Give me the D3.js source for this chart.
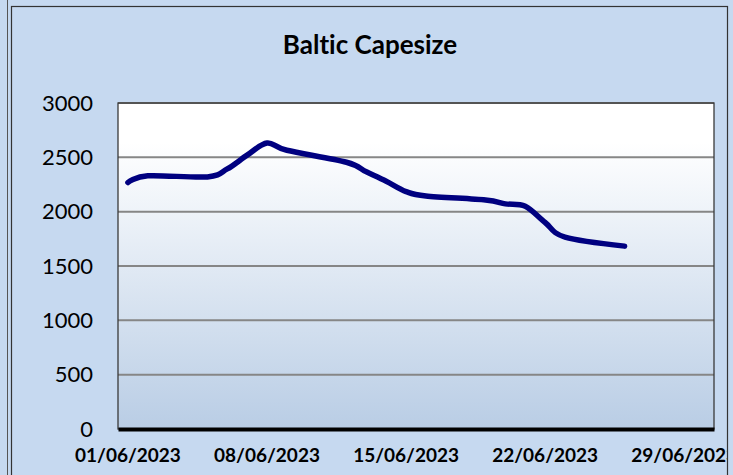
<!DOCTYPE html>
<html>
<head>
<meta charset="utf-8">
<script src="https://cdn.jsdelivr.net/npm/d3@7"></script>
<style>
  body { margin: 0; background: #c6d9f0; }
  svg { display: block; }
  text { font-variant-ligatures: none; font-feature-settings: "liga" 0; }
</style>
</head>
<body>
<div id="chart"></div>
<script>
// Baltic Capesize, June 2023 (business days only)
const days = ["01/06/2023", "02/06/2023", "05/06/2023", "06/06/2023", "07/06/2023", "08/06/2023",
    "09/06/2023", "12/06/2023", "13/06/2023", "14/06/2023", "15/06/2023", "16/06/2023",
    "19/06/2023", "20/06/2023", "21/06/2023", "22/06/2023", "23/06/2023", "26/06/2023"];
const values = [2268, 2330, 2320, 2393, 2520, 2632, 2565, 2455, 2367, 2280, 2185, 2145,
    2107, 2072, 2050, 1900, 1766, 1683];
const yTicks = [0, 500, 1000, 1500, 2000, 2500, 3000];
const xTickLabels = ["01/06/2023", "08/06/2023", "15/06/2023", "22/06/2023", "29/06/2023"];

const W = 733, H = 475;
const plot = { left: 118, right: 714, top: 103, bottom: 429 };

// full month of dates for the axis (date axis spaced by calendar day)
const allDays = d3.range(1, 31).map(d => String(d).padStart(2, "0") + "/06/2023");

const svg = d3.select("#chart").append("svg")
    .attr("width", W)
    .attr("height", H);

const defs = svg.append("defs");

const grad = defs.append("linearGradient")
    .attr("id", "plotFill")
    .attr("x1", 0).attr("y1", 0).attr("x2", 0).attr("y2", 1);
grad.append("stop").attr("offset", "0%").attr("stop-color", "#ffffff");
grad.append("stop").attr("offset", "12%").attr("stop-color", "#ffffff");
grad.append("stop").attr("offset", "100%").attr("stop-color", "#b9cde5");

defs.append("clipPath").attr("id", "areaClip")
    .append("rect")
    .attr("x", 11).attr("y", 6)
    .attr("width", 716).attr("height", H);

// outer frame lines
svg.append("line")
    .attr("x1", 7.5).attr("x2", 7.5)
    .attr("y1", 0).attr("y2", H)
    .attr("stroke", "#555").attr("stroke-width", 1);

svg.append("rect")
    .attr("x", 11.5).attr("y", 6.5)
    .attr("width", 716).attr("height", H)
    .attr("fill", "#c6d9f0")
    .attr("stroke", "#333")
    .attr("stroke-width", 1.2);

const g = svg.append("g").attr("clip-path", "url(#areaClip)");

// title
g.append("text")
    .attr("x", 370)
    .attr("y", 54)
    .attr("text-anchor", "middle")
    .style("font-family", "Lato, 'Open Sans', sans-serif")
    .style("font-weight", "bold")
    .style("font-size", "26px")
    .text("Baltic Capesize");

const xScale = d3.scaleBand()
    .domain(allDays)
    .range([plot.left, plot.right]);

const yScale = d3.scaleLinear()
    .domain([0, 3000])
    .range([plot.bottom, plot.top]);

// plot background
g.append("rect")
    .attr("x", plot.left)
    .attr("y", plot.top)
    .attr("width", plot.right - plot.left)
    .attr("height", plot.bottom - plot.top)
    .attr("fill", "url(#plotFill)");

// gridlines
g.append("g")
    .selectAll("line")
    .data(yTicks.filter(d => d > 0))
    .join("line")
    .attr("x1", plot.left)
    .attr("x2", plot.right)
    .attr("y1", d => yScale(d))
    .attr("y2", d => yScale(d))
    .attr("stroke", "#868686")
    .attr("stroke-width", 2);

// plot border
g.append("rect")
    .attr("x", plot.left)
    .attr("y", plot.top)
    .attr("width", plot.right - plot.left)
    .attr("height", plot.bottom - plot.top)
    .attr("fill", "none")
    .attr("stroke", "#3a3a3a")
    .attr("stroke-width", 1.3);

// y axis labels
const yAxis = g.append("g")
    .attr("transform", `translate(${plot.left},0)`)
    .call(d3.axisLeft(yScale).tickValues(yTicks).tickFormat(d3.format("d")).tickSize(0).tickPadding(25));
yAxis.select(".domain").remove();
yAxis.selectAll("text")
    .attr("fill", "#000")
    .style("font-family", "Lato, 'Open Sans', sans-serif")
    .style("font-size", "22px");

// x axis
const xAxis = g.append("g")
    .attr("transform", `translate(0,${plot.bottom})`)
    .call(d3.axisBottom(xScale).tickValues(xTickLabels).tickSize(0).tickPadding(20));
xAxis.select(".domain")
    .attr("stroke", "#000")
    .attr("stroke-width", 4);
xAxis.selectAll("text")
    .attr("fill", "#000")
    .style("font-family", "Lato, 'Open Sans', sans-serif")
    .style("font-weight", "bold")
    .style("font-size", "19px");

// series line
const line = d3.line()
    .x(d => xScale(d.day) + xScale.bandwidth() / 2)
    .y(d => yScale(d.value))
    .curve(d3.curveCardinal);

const series = days.map((d, i) => ({ day: d, value: values[i] }));

g.append("path")
    .datum(series)
    .attr("d", line)
    .attr("fill", "none")
    .attr("stroke", "#000080")
    .attr("stroke-width", 5.5)
    .attr("stroke-linecap", "round")
    .attr("stroke-linejoin", "round");
</script>
</body>
</html>
